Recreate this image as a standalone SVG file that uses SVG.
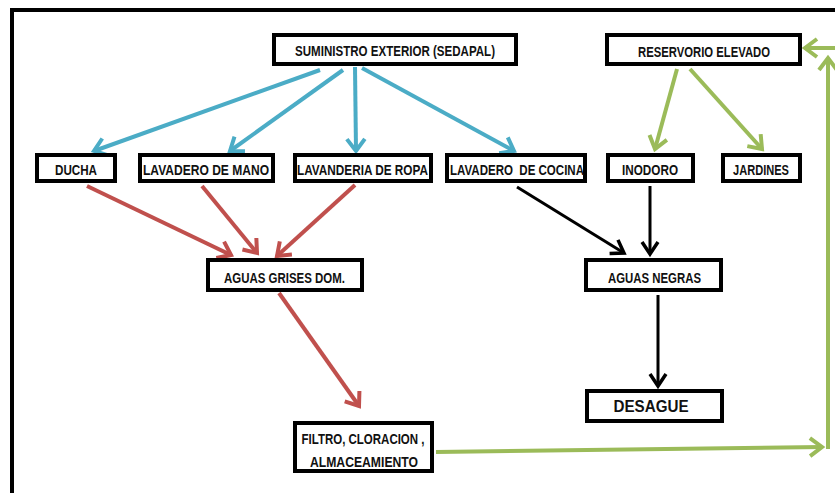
<svg xmlns="http://www.w3.org/2000/svg" width="835" height="493" viewBox="0 0 835 493">
  <style>
    .box { fill: #ffffff; stroke: #000000; stroke-width: 4; }
    .lbl { font-family: "Liberation Sans Narrow", "Liberation Sans", Arial, sans-serif; font-weight: bold; font-size: 15px; fill: #111111; text-anchor: middle; }
    .blue { stroke: #4BACC6; stroke-width: 4; fill: none; marker-end: url(#ah-blue); }
    .red { stroke: #C0504D; stroke-width: 4; fill: none; marker-end: url(#ah-red); }
    .black { stroke: #000000; stroke-width: 3; fill: none; marker-end: url(#ah-black); }
    .green { stroke: #9BBB59; stroke-width: 4; fill: none; marker-end: url(#ah-green); }
  </style>
  <defs>
    <marker id="ah-blue" markerUnits="userSpaceOnUse" orient="auto" refX="0" refY="0" markerWidth="30" markerHeight="30" viewBox="-15 -15 30 30" overflow="visible">
      <path d="M-12,-9 L0,0 L-12,9" fill="none" stroke="#4BACC6" stroke-width="4"/>
    </marker>
    <marker id="ah-red" markerUnits="userSpaceOnUse" orient="auto" refX="0" refY="0" markerWidth="30" markerHeight="30" viewBox="-15 -15 30 30" overflow="visible">
      <path d="M-12,-9 L0,0 L-12,9" fill="none" stroke="#C0504D" stroke-width="4"/>
    </marker>
    <marker id="ah-black" markerUnits="userSpaceOnUse" orient="auto" refX="0" refY="0" markerWidth="30" markerHeight="30" viewBox="-15 -15 30 30" overflow="visible">
      <path d="M-12,-8 L0,0 L-12,8" fill="none" stroke="#000000" stroke-width="3.5"/>
    </marker>
    <marker id="ah-green" markerUnits="userSpaceOnUse" orient="auto" refX="0" refY="0" markerWidth="30" markerHeight="30" viewBox="-15 -15 30 30" overflow="visible">
      <path d="M-12,-9 L0,0 L-12,9" fill="none" stroke="#9BBB59" stroke-width="4"/>
    </marker>
  </defs>

  <rect x="0" y="0" width="835" height="493" fill="#ffffff"/>
  <!-- outer frame (left and top edges) -->
  <path d="M12,493 V10 H835" fill="none" stroke="#000000" stroke-width="4"/>

  <g id="connectors">
    <!-- supply to fixtures -->
    <line class="blue" x1="320" y1="70" x2="94" y2="151"/>
    <line class="blue" x1="343" y1="70" x2="230" y2="151"/>
    <line class="blue" x1="355" y1="67" x2="356" y2="151"/>
    <line class="blue" x1="362" y1="68" x2="514" y2="151"/>
    <!-- grey water -->
    <line class="red" x1="87" y1="186" x2="231" y2="255"/>
    <line class="red" x1="202" y1="186" x2="257" y2="253"/>
    <line class="red" x1="355" y1="185" x2="277" y2="256"/>
    <line class="red" x1="279" y1="293" x2="359" y2="406"/>
    <!-- black water -->
    <line class="black" x1="517" y1="187" x2="624" y2="253"/>
    <line class="black" x1="650" y1="186" x2="650" y2="254"/>
    <line class="black" x1="658" y1="295" x2="658" y2="386"/>
    <!-- treated water loop -->
    <line class="green" x1="677" y1="69" x2="655" y2="149"/>
    <line class="green" x1="690" y1="69" x2="762" y2="149"/>
    <line class="green" x1="436" y1="452" x2="822" y2="447"/>
    <line class="green" x1="828" y1="449" x2="828" y2="58"/>
    <line class="green" x1="835" y1="48" x2="805" y2="48"/>
  </g>

  <g id="suministro">
    <rect class="box" x="274" y="35" width="242" height="29"/>
    <text class="lbl" x="395" y="56" textLength="200" lengthAdjust="spacingAndGlyphs">SUMINISTRO EXTERIOR (SEDAPAL)</text>
  </g>
  <g id="reservorio">
    <rect class="box" x="607" y="35" width="193" height="29"/>
    <text class="lbl" x="704" y="57" textLength="132" lengthAdjust="spacingAndGlyphs">RESERVORIO ELEVADO</text>
  </g>
  <g id="ducha">
    <rect class="box" x="37" y="155" width="78" height="26"/>
    <text class="lbl" x="76" y="175" textLength="42" lengthAdjust="spacingAndGlyphs">DUCHA</text>
  </g>
  <g id="lavadero-mano">
    <rect class="box" x="140" y="155" width="133" height="26"/>
    <text class="lbl" x="206" y="175" textLength="126" lengthAdjust="spacingAndGlyphs">LAVADERO DE MANO</text>
  </g>
  <g id="lavanderia-ropa">
    <rect class="box" x="295" y="155" width="136" height="26"/>
    <text class="lbl" x="362.5" y="175" textLength="131" lengthAdjust="spacingAndGlyphs">LAVANDERIA DE ROPA</text>
  </g>
  <g id="lavadero-cocina">
    <rect class="box" x="447" y="155" width="138" height="26"/>
    <text class="lbl" x="517" y="175" textLength="134" lengthAdjust="spacingAndGlyphs" xml:space="preserve">LAVADERO  DE COCINA</text>
  </g>
  <g id="inodoro">
    <rect class="box" x="608" y="155" width="85" height="26"/>
    <text class="lbl" x="650" y="175" textLength="56" lengthAdjust="spacingAndGlyphs">INODORO</text>
  </g>
  <g id="jardines">
    <rect class="box" x="723" y="155" width="77" height="26"/>
    <text class="lbl" x="761" y="175" textLength="56" lengthAdjust="spacingAndGlyphs">JARDINES</text>
  </g>
  <g id="aguas-grises">
    <rect class="box" x="208" y="260" width="154" height="30"/>
    <text class="lbl" x="284.5" y="283" textLength="121" lengthAdjust="spacingAndGlyphs">AGUAS GRISES DOM.</text>
  </g>
  <g id="aguas-negras">
    <rect class="box" x="586" y="260" width="135" height="30"/>
    <text class="lbl" x="654.5" y="283" textLength="93" lengthAdjust="spacingAndGlyphs">AGUAS NEGRAS</text>
  </g>
  <g id="desague">
    <rect class="box" x="587" y="391" width="135" height="30"/>
    <text class="lbl" x="651" y="412" textLength="75" lengthAdjust="spacingAndGlyphs" style="font-size:16px">DESAGUE</text>
  </g>
  <g id="filtro">
    <rect class="box" x="295" y="423" width="137" height="48"/>
    <text class="lbl" x="363" y="444" textLength="123" lengthAdjust="spacingAndGlyphs">FILTRO, CLORACION ,</text>
    <text class="lbl" x="364" y="467" textLength="108" lengthAdjust="spacingAndGlyphs">ALMACEAMIENTO</text>
  </g>
</svg>
